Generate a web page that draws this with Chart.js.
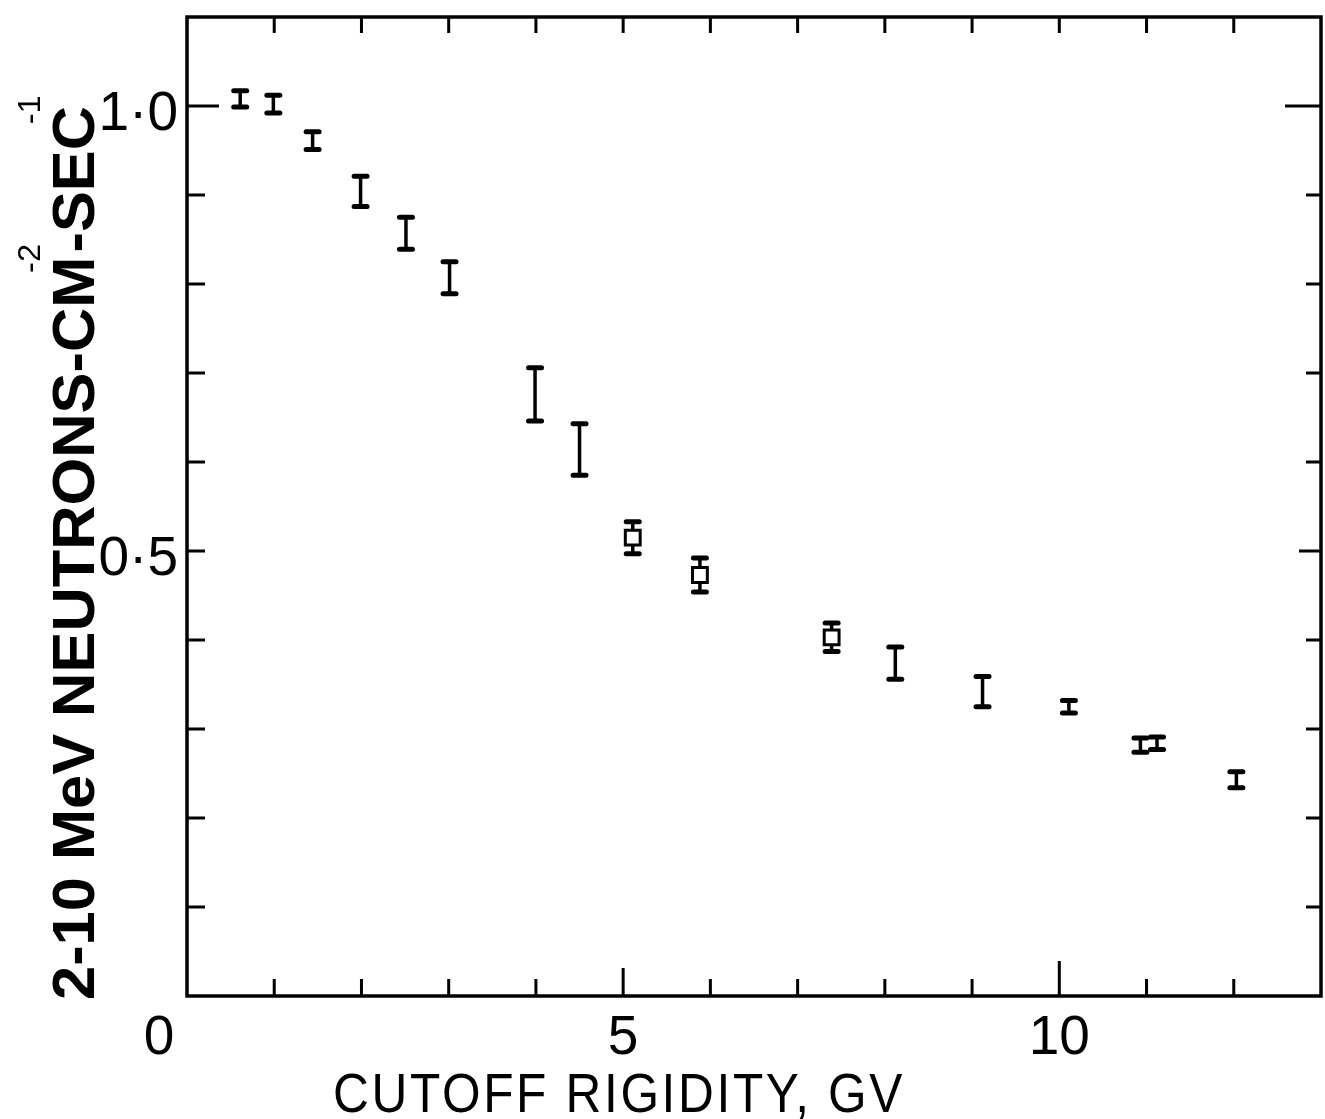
<!DOCTYPE html>
<html>
<head>
<meta charset="utf-8">
<script src="https://cdn.jsdelivr.net/npm/chart.js@4.4.1/dist/chart.umd.min.js"></script>
<style>
  html, body { margin: 0; padding: 0; background: #fff; overflow: hidden; }
  canvas { display: block; }
</style>
</head>
<body>
<canvas id="neutronChart" width="1325" height="1119"></canvas>
<script>
// plain error bars: cutoff rigidity (GV), flux, half error
const barRigidity = [0.61, 0.99, 1.44, 1.99, 2.51, 3.01, 3.99, 4.50, 8.12, 9.12, 10.11, 10.93, 11.12, 12.03];
const barFlux     = [1.008, 1.002, 0.961, 0.904, 0.857, 0.807, 0.676, 0.614, 0.374, 0.342, 0.325, 0.282, 0.284, 0.243];
const barError    = [0.009, 0.010, 0.010, 0.017, 0.018, 0.018, 0.030, 0.029, 0.018, 0.017, 0.007, 0.008, 0.007, 0.009];

// points with an open square
const boxRigidity = [5.11, 5.88, 7.39];
const boxFlux     = [0.515, 0.473, 0.403];
const boxError    = [0.018, 0.019, 0.016];

// tick marks and labels
const xTickValues = [1, 2, 3, 4, 5, 6, 7, 8, 9, 10, 11, 12];
const yTickValues = [0.1, 0.2, 0.3, 0.4, 0.5, 0.6, 0.7, 0.8, 0.9, 1.0];
const xLabelValues = [0, 5, 10];
const xLabelText = ['0', '5', '10'];
const yLabelValues = [0.5, 1.0];
const yLabelText = ['0\u00b75', '1\u00b70'];

const xTitle = 'CUTOFF RIGIDITY, GV';
const yTitleParts = ['2-10 MeV NEUTRONS-CM', '-SEC'];
const yTitleSups = ['-2', '-1'];

function toPoints(xs, ys) {
  return xs.map((x, i) => ({ x: x, y: ys[i] }));
}

const paperAxes = {
  id: 'paperAxes',
  beforeDatasetsDraw(chart) {
    const ctx = chart.ctx;
    const xs = chart.scales.x, ys = chart.scales.y;
    ctx.save();
    ctx.strokeStyle = '#000';
    ctx.lineCap = 'round';
    const groups = [[barRigidity, barFlux, barError], [boxRigidity, boxFlux, boxError]];
    groups.forEach(g => {
      g[0].forEach((rx, i) => {
        const px = xs.getPixelForValue(rx);
        const top = ys.getPixelForValue(g[1][i] + g[2][i]);
        const bot = ys.getPixelForValue(g[1][i] - g[2][i]);
        ctx.lineWidth = 3.5;
        ctx.beginPath();
        ctx.moveTo(px, top);
        ctx.lineTo(px, bot);
        ctx.stroke();
        ctx.lineWidth = 5;
        ctx.beginPath();
        ctx.moveTo(px - 6.5, top); ctx.lineTo(px + 6.5, top);
        ctx.moveTo(px - 6.5, bot); ctx.lineTo(px + 6.5, bot);
        ctx.stroke();
      });
    });
    ctx.restore();
  },
  afterDraw(chart) {
    const ctx = chart.ctx;
    const a = chart.chartArea;
    const xs = chart.scales.x, ys = chart.scales.y;
    ctx.save();
    ctx.strokeStyle = '#000';
    ctx.fillStyle = '#000';

    // frame
    ctx.lineWidth = 3.5;
    ctx.strokeRect(a.left, a.top, a.right - a.left, a.bottom - a.top);

    // ticks, all pointing inward
    ctx.lineWidth = 3;
    ctx.beginPath();
    xTickValues.forEach(v => {
      const px = xs.getPixelForValue(v);
      const len = v === 10 ? 35 : (v === 5 ? 28 : 17);
      ctx.moveTo(px, a.bottom); ctx.lineTo(px, a.bottom - len);
      ctx.moveTo(px, a.top); ctx.lineTo(px, a.top + 16);
    });
    yTickValues.forEach(v => {
      const py = ys.getPixelForValue(v);
      const big = Math.abs(v - 1) < 1e-6;
      const half = Math.abs(v - 0.5) < 1e-6;
      ctx.moveTo(a.left, py); ctx.lineTo(a.left + (big ? 32 : 18), py);
      ctx.moveTo(a.right, py); ctx.lineTo(a.right - (big ? 36 : (half ? 22 : 15)), py);
    });
    ctx.stroke();

    // tick labels
    ctx.font = '55px "Liberation Sans"';
    ctx.textBaseline = 'alphabetic';
    ctx.textAlign = 'center';
    xLabelValues.forEach((v, i) => {
      let px = xs.getPixelForValue(v);
      if (v === 0) px -= 28;
      ctx.fillText(xLabelText[i], px, a.bottom + 58);
    });
    ctx.textAlign = 'right';
    yLabelValues.forEach((v, i) => {
      const py = ys.getPixelForValue(v);
      ctx.fillText(yLabelText[i], a.left - 9, py + 24);
    });

    // x title, squeezed to the width of the original lettering
    ctx.textAlign = 'left';
    ctx.font = '56px "Liberation Sans"';
    ctx.letterSpacing = '3px';
    const tw = ctx.measureText(xTitle).width;
    ctx.save();
    ctx.translate(333, 1112);
    ctx.scale(572 / tw, 1);
    ctx.fillText(xTitle, 0, 0);
    ctx.restore();
    ctx.letterSpacing = '0px';

    // y title, rotated, with superscripts
    ctx.save();
    ctx.translate(94, 1000);
    ctx.rotate(-Math.PI / 2);
    ctx.font = 'bold 60px "Liberation Sans"';
    const w1 = ctx.measureText(yTitleParts[0]).width;
    const w2 = ctx.measureText(yTitleParts[1]).width;
    const fit = 890 / (w1 + w2);
    ctx.scale(fit, 1);
    ctx.fillText(yTitleParts[0], 0, 0);
    ctx.fillText(yTitleParts[1], w1 + 4, 0);
    ctx.font = '32px "Liberation Sans"';
    ctx.fillText(yTitleSups[0], w1 - 16, -54);
    ctx.fillText(yTitleSups[1], w1 + w2 - 14, -54);
    ctx.restore();

    ctx.restore();
  }
};

new Chart(document.getElementById('neutronChart'), {
  type: 'scatter',
  data: {
    datasets: [
      {
        label: 'flux',
        data: toPoints(barRigidity, barFlux),
        pointRadius: 0,
        showLine: false
      },
      {
        label: 'flux (square)',
        data: toPoints(boxRigidity, boxFlux),
        pointStyle: 'rect',
        pointRadius: 10.5,
        borderWidth: 3,
        borderColor: '#000',
        backgroundColor: '#fff',
        showLine: false
      }
    ]
  },
  options: {
    responsive: false,
    animation: false,
    events: [],
    layout: {
      autoPadding: false,
      padding: { left: 187, right: 4, top: 17, bottom: 123 }
    },
    plugins: {
      legend: { display: false },
      tooltip: { enabled: false }
    },
    scales: {
      x: { type: 'linear', min: 0, max: 13, display: false },
      y: { type: 'linear', min: 0, max: 1.1, display: false }
    }
  },
  plugins: [paperAxes]
});
</script>
</body>
</html>
